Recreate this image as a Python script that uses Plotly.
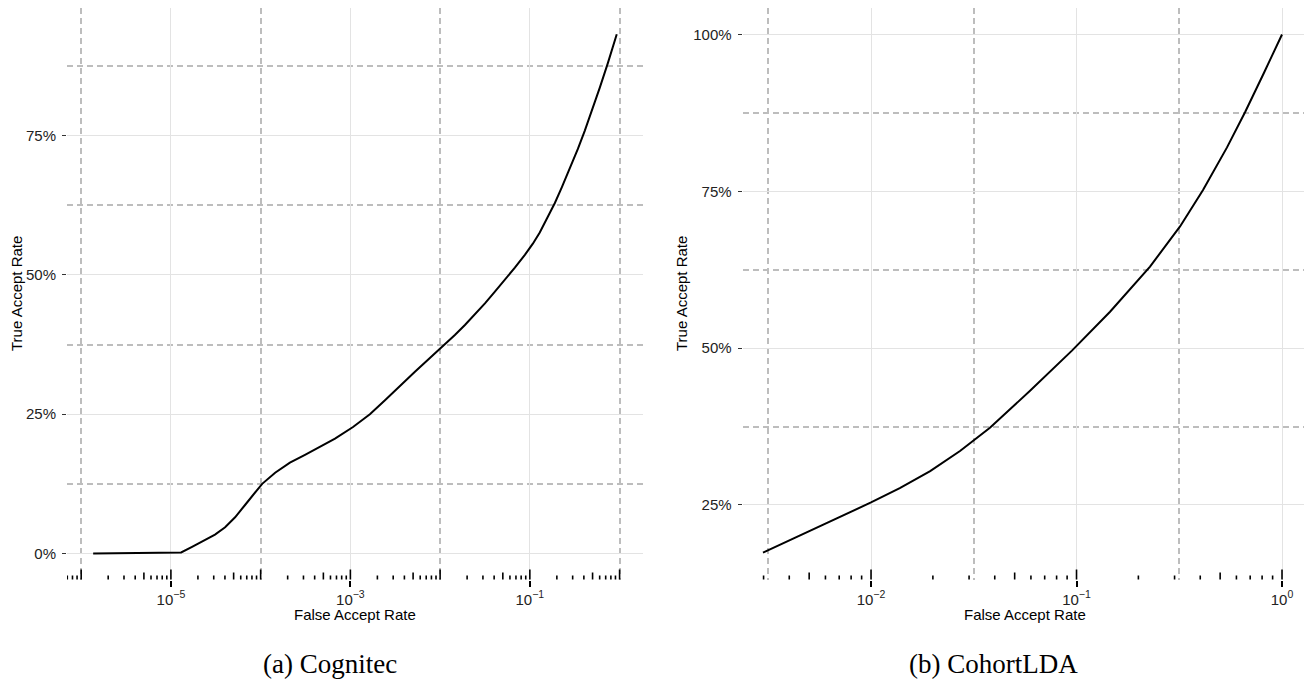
import math
import plotly.graph_objects as go

# ROC curve, Cognitec (false accept rate, true accept rate in %)
cog_far = [1.36e-6, 2.7e-6, 5.9e-6, 1.3e-5, 1.72e-5, 2.4e-5, 3.1e-5, 4.02e-5, 5.19e-5, 6.7e-5,
           8.7e-5, 1.04e-4, 1.45e-4, 2.12e-4, 3.12e-4, 4.58e-4, 6.74e-4, 1.07e-3, 1.65e-3,
           2.43e-3, 3.56e-3, 5.24e-3, 7.69e-3, 1.07e-2, 1.46e-2, 1.89e-2, 2.44e-2, 3.16e-2,
           4.08e-2, 5.27e-2, 6.81e-2, 8.80e-2, 0.108, 0.129, 0.158, 0.190, 0.227, 0.279,
           0.343, 0.410, 0.490, 0.602, 0.740, 0.93]
cog_tar = [0.0, 0.09, 0.18, 0.18, 1.2, 2.4, 3.4, 4.7, 6.5, 8.7,
           11.0, 12.5, 14.5, 16.3, 17.7, 19.1, 20.6, 22.7, 25.0,
           27.5, 30.1, 32.6, 35.1, 37.2, 39.2, 41.0, 42.9, 44.9,
           47.0, 49.1, 51.3, 53.6, 55.6, 57.6, 60.3, 62.9, 65.7, 69.0,
           72.6, 75.9, 79.4, 83.6, 88.0, 93.2]

# ROC curve, CohortLDA
lda_far = [0.00298, 0.00404, 0.00565, 0.00791, 0.0100, 0.0138, 0.0194, 0.0271, 0.0379,
           0.0594, 0.0950, 0.1456, 0.2279, 0.3190, 0.4127, 0.5400, 0.6607, 0.8173, 1.0]
lda_tar = [17.4, 19.4, 21.7, 23.9, 25.4, 27.7, 30.4, 33.6, 37.3,
           43.2, 49.6, 55.8, 63.0, 69.4, 75.2, 82.0, 87.6, 93.9, 100.0]

# axis breaks
cog_major = [1e-5, 1e-3, 1e-1]
cog_minor = [1e-6, 1e-4, 1e-2, 1e0]
cog_labels = ["10<sup>\u22125</sup>", "10<sup>\u22123</sup>", "10<sup>\u22121</sup>"]
lda_major = [1e-2, 1e-1, 1e0]
lda_minor = [10 ** -2.5, 10 ** -1.5, 10 ** -0.5]
lda_labels = ["10<sup>\u22122</sup>", "10<sup>\u22121</sup>", "10<sup>0</sup>"]
cog_yticks = [0, 25, 50, 75]
cog_yminor = [12.5, 37.5, 62.5, 87.5]
lda_yticks = [25, 50, 75, 100]
lda_yminor = [37.5, 62.5, 87.5]

captions = ["(a) Cognitec", "(b) CohortLDA"]
x_title = "False Accept Rate"
y_title = "True Accept Rate"

W, H = 1304, 683
SANS = "Liberation Sans, Arial, sans-serif"
SERIF = "Liberation Serif, Times New Roman, serif"
GRID = "#e3e3e3"
MINOR = "#bdbdbd"

fig = go.Figure()
fig.add_trace(go.Scatter(x=cog_far, y=cog_tar, mode="lines",
                         line=dict(color="black", width=2), xaxis="x", yaxis="y",
                         showlegend=False, hoverinfo="skip"))
fig.add_trace(go.Scatter(x=lda_far, y=lda_tar, mode="lines",
                         line=dict(color="black", width=2), xaxis="x2", yaxis="y2",
                         showlegend=False, hoverinfo="skip"))

ydom = [(683 - 579.5) / H, (683 - 8) / H]
left_dom = [67 / W, 643 / W]
right_dom = [742.6 / W, 1.0]


def xaxis_cfg(dom, rng, major, labels, minor, anchor):
    return dict(type="log", domain=dom, range=rng, anchor=anchor,
                tickmode="array", tickvals=major, ticktext=labels,
                ticks="outside", ticklen=6, tickwidth=1.6, tickcolor="black",
                showline=False, zeroline=False, showgrid=True,
                gridcolor=GRID, gridwidth=1,
                tickfont=dict(family=SANS, size=15, color="#222"),
                minor=dict(tickmode="array", tickvals=minor, showgrid=True,
                           gridcolor=MINOR, gridwidth=1.5, griddash="6px,4px",
                           ticks=""))


def yaxis_cfg(rng, major, minor, anchor):
    return dict(domain=ydom, range=rng, anchor=anchor,
                tickmode="array", tickvals=major, ticktext=[f"{v}%" for v in major],
                ticks="outside", ticklen=4, tickwidth=1, tickcolor="#333",
                ticklabelstandoff=3,
                showline=False, zeroline=False, showgrid=True,
                gridcolor=GRID, gridwidth=1,
                tickfont=dict(family=SANS, size=15, color="#222"),
                minor=dict(tickmode="array", tickvals=minor, showgrid=True,
                           gridcolor=MINOR, gridwidth=1.5, griddash="6px,4px",
                           ticks=""))


fig.update_layout(
    width=W, height=H,
    margin=dict(l=0, r=0, t=0, b=0),
    paper_bgcolor="white", plot_bgcolor="white",
    xaxis=xaxis_cfg(left_dom, [-6.158, 0.261], cog_major, cog_labels, cog_minor, "y"),
    yaxis=yaxis_cfg([-4.67, 97.9], cog_yticks, cog_yminor, "x"),
    xaxis2=xaxis_cfg(right_dom, [-2.625, 0.107], lda_major, lda_labels, lda_minor, "y2"),
    yaxis2=yaxis_cfg([13.12, 104.22], lda_yticks, lda_yminor, "x2"),
)

# log-scale rug ticks along the bottom of each panel
panel_h = (ydom[1] - ydom[0]) * H
shapes = []
for xref, rng in (("x", (-6.158, 0.261)), ("x2", (-2.625, 0.107))):
    for d in range(math.floor(rng[0]), math.ceil(rng[1]) + 1):
        for m in range(1, 10):
            v = m * 10 ** d
            lv = math.log10(v)
            if lv < rng[0] or lv > rng[1]:
                continue
            L = 10 if m == 1 else (7 if m == 5 else 4)
            shapes.append(dict(type="line", xref=xref, yref=("y domain" if xref == "x" else "y2 domain"),
                               x0=v, x1=v, y0=0, y1=L / panel_h,
                               line=dict(color="black", width=1.6), layer="above"))
fig.update_layout(shapes=shapes)

annotations = []
for cx in ((67 + 643) / 2, (742.6 + 1308) / 2):
    annotations.append(dict(text=x_title, xref="paper", yref="paper", x=cx / W, y=(683 - 614) / H,
                            showarrow=False, xanchor="center", yanchor="middle",
                            font=dict(family=SANS, size=15, color="black")))
for cx, cy in ((17, 294), (682, 294)):
    annotations.append(dict(text=y_title, xref="paper", yref="paper", x=cx / W, y=(683 - cy) / H,
                            showarrow=False, xanchor="center", yanchor="middle", textangle=-90,
                            font=dict(family=SANS, size=15, color="black")))
for cx, txt in ((330, captions[0]), (993, captions[1])):
    annotations.append(dict(text=txt, xref="paper", yref="paper", x=cx / W, y=(683 - 664) / H,
                            showarrow=False, xanchor="center", yanchor="middle",
                            font=dict(family=SERIF, size=27, color="black")))
fig.update_layout(annotations=annotations)

fig.write_html("out.html")
